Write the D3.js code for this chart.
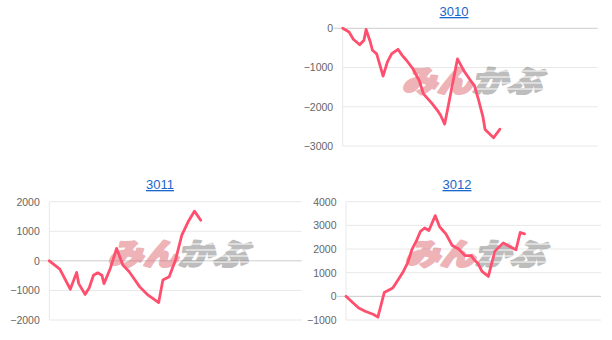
<!DOCTYPE html>
<html>
<head>
<meta charset="utf-8">
<script src="https://cdn.jsdelivr.net/npm/d3@7"></script>
<style>
  html, body { margin: 0; padding: 0; background: #fff; }
  svg { display: block; }
</style>
</head>
<body>
<svg id="chart" width="612" height="340"></svg>
<script>
// ---- data (day index, cumulative value) ----
const titles = ["3010", "3011", "3012"];

const days3010   = [0, 3, 5, 8, 10, 11, 13, 14, 16, 19, 21, 23, 26, 28, 30, 33, 36, 38, 42, 45, 46, 48, 54, 57, 60, 62, 64, 66, 67, 71, 74];
const values3010 = [0, -95, -280, -420, -305, -30, -350, -560, -650, -1220, -860, -650, -535, -690, -815, -1030, -1330, -1670, -1915, -2125, -2210, -2440, -780, -1080, -1320, -1460, -1840, -2260, -2580, -2790, -2570];

const days3011   = [0, 5, 10, 13, 14, 17, 19, 21, 23, 25, 26, 29, 32, 35, 38, 43, 47, 52, 54, 57, 60, 63, 66, 69, 72];
const values3011 = [0, -280, -960, -390, -770, -1135, -910, -485, -405, -485, -770, -257, 420, -145, -370, -880, -1160, -1410, -650, -540, 25, 870, 1320, 1680, 1375];

const days3012   = [0, 3, 6, 9, 13, 15, 18, 22, 24, 27, 29, 31, 33, 35, 37, 39, 42, 44, 46, 47, 50, 53, 56, 59, 60, 62, 64, 67, 70, 74, 77, 80, 82, 84];
const values3012 = [0, -250, -490, -630, -770, -880, 160, 350, 630, 1055, 1410, 1970, 2320, 2740, 2890, 2780, 3410, 2950, 2740, 2640, 2150, 2000, 1720, 1720, 1580, 1400, 1055, 840, 1900, 2260, 2110, 1970, 2700, 2640];

const ticks3010 = [0, -1000, -2000, -3000];
const ticks3011 = [2000, 1000, 0, -1000, -2000];
const ticks3012 = [4000, 3000, 2000, 1000, 0, -1000];

const dayDomain = [0, 120];

// ---- layout ----
const panels = [
  { title: titles[0], days: days3010, values: values3010, ticks: ticks3010,
    x0: 342.7, x1: 597.7, yTop: 28.3, yBot: 146, tx: 454, ty: 16, wm: [396, 92] },
  { title: titles[1], days: days3011, values: values3011, ticks: ticks3011,
    x0: 49.3, x1: 301.7, yTop: 201.7, yBot: 320, tx: 160, ty: 189, wm: [102, 265] },
  { title: titles[2], days: days3012, values: values3012, ticks: ticks3012,
    x0: 346, x1: 601, yTop: 201.7, yBot: 320, tx: 457, ty: 189, wm: [399, 265] }
];

const svg = d3.select("#chart");
const font = "Arial, 'Liberation Sans', sans-serif";

panels.forEach(p => {
  const g = svg.append("g");
  const x = d3.scaleLinear().domain(dayDomain).range([p.x0, p.x1]);
  const y = d3.scaleLinear().domain(d3.extent(p.ticks)).range([p.yBot, p.yTop]);

  // title (link style)
  g.append("text")
    .attr("x", p.tx).attr("y", p.ty)
    .attr("text-anchor", "middle")
    .attr("font-family", font).attr("font-size", 13)
    .attr("fill", "#1a66cc")
    .attr("text-decoration", "underline")
    .text(p.title);

  // gridlines
  g.selectAll("line.grid").data(p.ticks.filter(d => d !== 0)).join("line")
    .attr("x1", p.x0).attr("x2", p.x1)
    .attr("y1", d => y(d)).attr("y2", d => y(d))
    .attr("stroke", "#e8e8e8").attr("stroke-width", 1);

  // vertical axis line
  g.append("line")
    .attr("x1", p.x0).attr("x2", p.x0)
    .attr("y1", y(d3.max(p.ticks))).attr("y2", y(d3.min(p.ticks)))
    .attr("stroke", "#e8e8e8").attr("stroke-width", 1);

  // baseline (zero)
  g.append("line")
    .attr("x1", p.x0 - 9).attr("x2", p.x1)
    .attr("y1", y(0)).attr("y2", y(0))
    .attr("stroke", "#cccccc").attr("stroke-width", 1);

  // tick labels via axis
  const axis = d3.axisLeft(y).tickValues(p.ticks).tickSize(0).tickPadding(9.5).tickFormat(d3.format("d"));
  const ag = g.append("g").attr("transform", `translate(${p.x0},0)`).call(axis);
  ag.select(".domain").remove();
  ag.selectAll("text")
    .attr("font-family", font).attr("font-size", 10.5).attr("fill", "#666");

  // watermark
  const wm = g.append("g")
    .attr("transform", `translate(${p.wm[0] + 6},${p.wm[1]}) skewX(-14)`)
    .attr("opacity", 0.5);
  const wt = wm.append("text")
    .attr("x", 0).attr("y", 0)
    .attr("font-family", "'Noto Sans CJK JP', sans-serif")
    .attr("font-weight", 900)
    .attr("font-size", 30)
    .attr("textLength", 140)
    .attr("lengthAdjust", "spacingAndGlyphs")
    .attr("stroke-width", 2.4)
    .attr("stroke-linejoin", "round")
    .attr("paint-order", "stroke");
  wt.append("tspan").attr("fill", "#dc6a72").attr("stroke", "#dc6a72").text("みん");
  wt.append("tspan").attr("fill", "#7d7d7d").attr("stroke", "#7d7d7d").text("かぶ");
  // stripes over gray part
  [-21, -15, -9, -3].forEach(s => {
    wm.append("line")
      .attr("x1", 74).attr("x2", 148)
      .attr("y1", s).attr("y2", s)
      .attr("stroke", "#ffffff").attr("stroke-width", 1.2);
  });

  // series line
  const pts = p.days.map((d, i) => [d, p.values[i]]);
  g.append("path")
    .datum(pts)
    .attr("fill", "none")
    .attr("stroke", "#ff4f6e")
    .attr("stroke-width", 2.8)
    .attr("stroke-linejoin", "round")
    .attr("stroke-linecap", "round")
    .attr("d", d3.line().x(d => x(d[0])).y(d => y(d[1])));
});
</script>
</body>
</html>
